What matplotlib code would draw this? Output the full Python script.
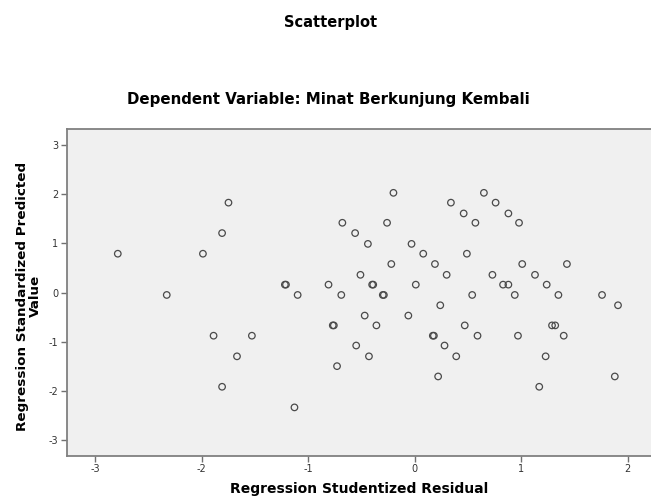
import matplotlib
matplotlib.use('Agg')
import matplotlib.pyplot as plt

# studentized residual (x) vs standardized predicted value (y)
residual = [-2.79, -2.33, -1.99, -1.81, -1.75, -1.89, -1.53, -1.67, -1.81, -1.13,
            -1.22, -1.21, -1.10, -0.81, -0.69, -0.77, -0.76, -0.73, -0.68, -0.56,
            -0.51, -0.55, -0.44, -0.40, -0.39, -0.47, -0.36, -0.43, -0.20, -0.26,
            -0.03, 0.08, -0.22, 0.19, 0.30, 0.01, -0.30, -0.29, 0.24, -0.06,
            0.17, 0.18, 0.28, 0.39, 0.22, 0.34, 0.46, 0.57, 0.65, 0.76,
            0.88, 0.98, 0.49, 0.73, 0.83, 0.88, 0.94, 0.54, 0.47, 0.59,
            0.97, 1.01, 1.43, 1.13, 1.24, 1.35, 1.76, 1.91, 1.29, 1.32,
            1.40, 1.23, 1.17, 1.88]
predicted = [0.79, -0.05, 0.79, 1.21, 1.83, -0.88, -0.88, -1.30, -1.92, -2.34,
             0.16, 0.16, -0.05, 0.16, -0.05, -0.67, -0.67, -1.50, 1.42, 1.21,
             0.36, -1.08, 0.99, 0.16, 0.16, -0.47, -0.67, -1.30, 2.03, 1.42,
             0.99, 0.79, 0.58, 0.58, 0.36, 0.16, -0.05, -0.05, -0.26, -0.47,
             -0.88, -0.88, -1.08, -1.30, -1.71, 1.83, 1.61, 1.42, 2.03, 1.83,
             1.61, 1.42, 0.79, 0.36, 0.16, 0.16, -0.05, -0.05, -0.67, -0.88,
             -0.88, 0.58, 0.58, 0.36, 0.16, -0.05, -0.05, -0.26, -0.67, -0.67,
             -0.88, -1.30, -1.92, -1.71]
x_ticks = [-3, -2, -1, 0, 1, 2]
y_ticks = [-3, -2, -1, 0, 1, 2, 3]

plt.rcParams['font.family'] = ['DejaVu Sans']
plt.rcParams['axes.unicode_minus'] = False

fig = plt.figure(figsize=(6.51, 4.98), dpi=100)
ax = fig.add_axes([66.7 / 651, 42 / 498, 1 - 66.7 / 651, 327 / 498])
ax.set_facecolor('#f0f0f0')

ax.scatter(residual, predicted, s=22, facecolors='none', edgecolors='#4a4a4a', linewidths=0.9)

ax.set_xlim(-3.27, 2.22)
ax.set_ylim(-3.33, 3.33)
ax.set_xticks(x_ticks)
ax.set_yticks(y_ticks)
ax.tick_params(length=4, width=1, color='#707070', labelsize=7, labelcolor='#333333', pad=2)

for side in ['left', 'bottom', 'top']:
    ax.spines[side].set_color('#808080')
    ax.spines[side].set_linewidth(1.3)
ax.spines['right'].set_visible(False)

fig.text(331 / 651, 1 - 22.7 / 498, 'Scatterplot', ha='center', va='center',
         fontsize=10.5, fontweight='bold')
fig.text(328 / 651, 1 - 99.3 / 498, 'Dependent Variable: Minat Berkunjung Kembali',
         ha='center', va='center', fontsize=10.8, fontweight='bold')
fig.text((66.7 + 651) / 2 / 651, 1 - 489 / 498, 'Regression Studentized Residual',
         ha='center', va='center', fontsize=10, fontweight='bold')
fig.text(29 / 651, 1 - 296 / 498, 'Regression Standardized Predicted\nValue',
         ha='center', va='center', rotation=90, fontsize=9.7, fontweight='bold',
         linespacing=1.0)

plt.savefig('out.png', dpi=100)
